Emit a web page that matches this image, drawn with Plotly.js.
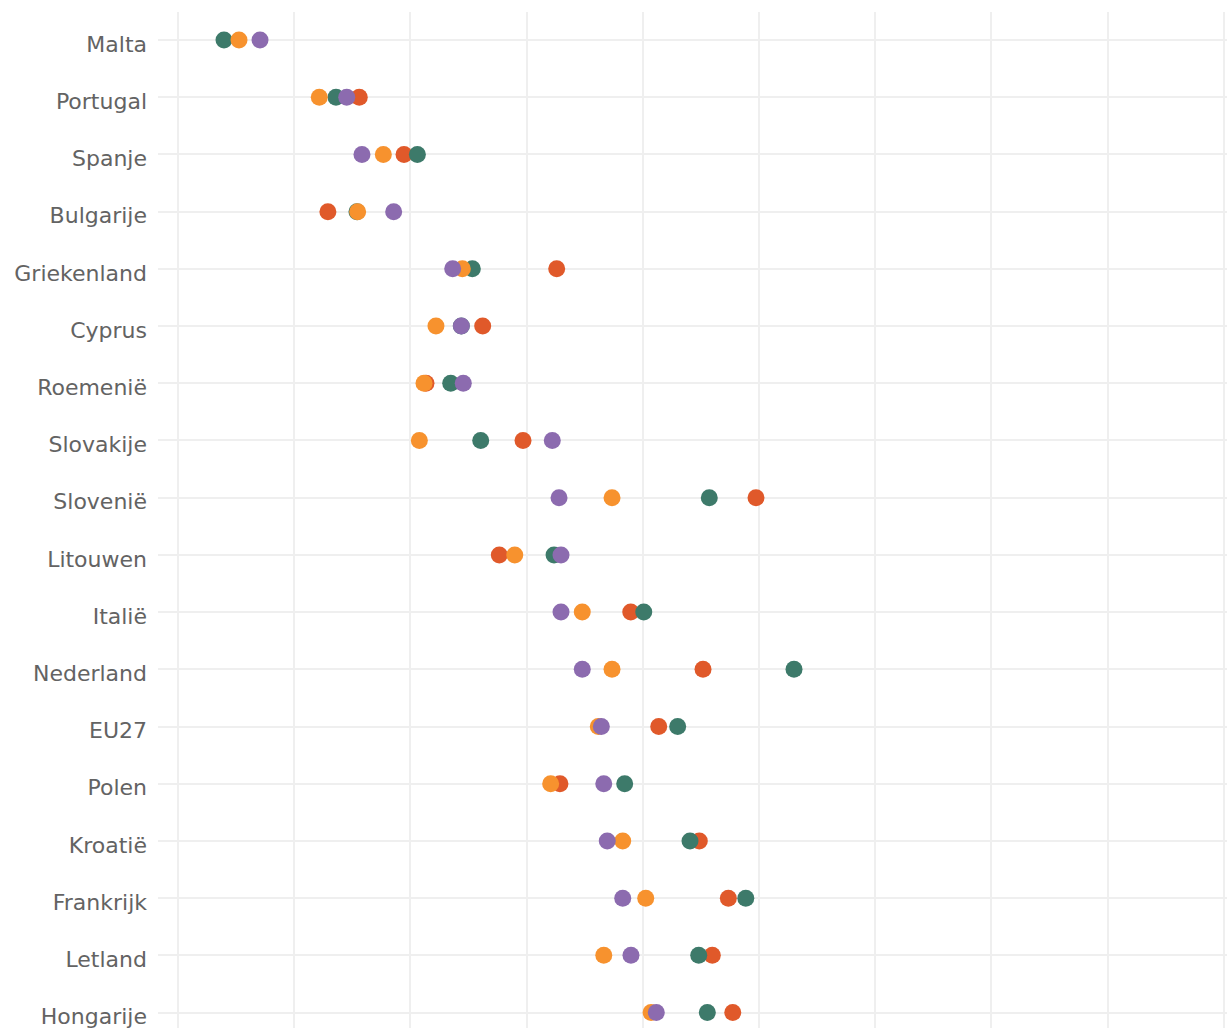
<!DOCTYPE html>
<html>
<head>
<meta charset="utf-8">
<script src="https://cdn.plot.ly/plotly-3.0.1.min.js"></script>
<style>html,body{margin:0;padding:0;background:#fff;overflow:hidden}#chart{width:1227px;height:1028px}</style>
</head>
<body>
<div id="chart"></div>
<script>
const countries = ["Malta","Portugal","Spanje","Bulgarije","Griekenland","Cyprus","Roemenië","Slovakije","Slovenië","Litouwen","Italië","Nederland","EU27","Polen","Kroatië","Frankrijk","Letland","Hongarije"];
const seriesRed    = [null, 15.6, 19.45, 12.9, 32.59, 26.22, 21.34, 29.69, 49.74, 27.65, 38.96, 45.18, 41.37, 32.87, 44.86, 47.36, 45.98, 47.74];
const seriesGreen  = [3.96, 13.6, 20.6, 15.4, 25.33, 24.38, 23.47, 26.05, 45.72, 32.36, 40.08, 53.01, 43.0, 38.44, 44.06, 48.86, 44.81, 45.55];
const seriesOrange = [5.25, 12.16, 17.67, 15.46, 24.47, 22.2, 21.17, 20.77, 37.35, 28.98, 34.79, 37.35, 36.17, 32.07, 38.27, 40.25, 36.64, 40.71];
const seriesPurple = [7.06, 14.52, 15.83, 18.56, 23.64, 24.38, 24.55, 32.21, 32.79, 32.96, 32.96, 34.79, 36.43, 36.64, 36.94, 38.27, 38.98, 41.16];

const series = [
  {name: "rood", values: seriesRed, color: "rgb(224,89,42)"},
  {name: "groen", values: seriesGreen, color: "rgb(61,122,106)"},
  {name: "oranje", values: seriesOrange, color: "rgb(247,146,46)"},
  {name: "paars", values: seriesPurple, color: "rgb(140,107,175)"}
];

const traces = series.map(s => ({
  type: "scatter",
  mode: "markers",
  name: s.name,
  x: s.values,
  y: countries,
  marker: {size: 17, color: s.color, line: {width: 0}},
  hoverinfo: "x+y+name"
}));

const layout = {
  width: 1227,
  height: 1028,
  margin: {l: 158, r: 0, t: 12, b: 0},
  paper_bgcolor: "#ffffff",
  plot_bgcolor: "#ffffff",
  showlegend: false,
  font: {family: "DejaVu Sans, sans-serif", color: "#636363"},
  xaxis: {
    range: [-1.72, 90.27],
    tick0: 0,
    dtick: 10,
    showticklabels: false,
    ticks: "",
    showgrid: true,
    gridcolor: "#efefef",
    gridwidth: 2,
    zeroline: false,
    showline: false
  },
  yaxis: {
    type: "category",
    categoryorder: "array",
    categoryarray: countries,
    range: [17.27, -0.49],
    showgrid: true,
    gridcolor: "#efefef",
    gridwidth: 2,
    zeroline: false,
    showline: false,
    ticks: "",
    ticklabelstandoff: 10,
    ticklabelshift: -4,
    tickfont: {family: "DejaVu Sans, sans-serif", size: 22, color: "#636363"}
  }
};

Plotly.newPlot("chart", traces, layout, {displayModeBar: false, staticPlot: true});
</script>
</body>
</html>
